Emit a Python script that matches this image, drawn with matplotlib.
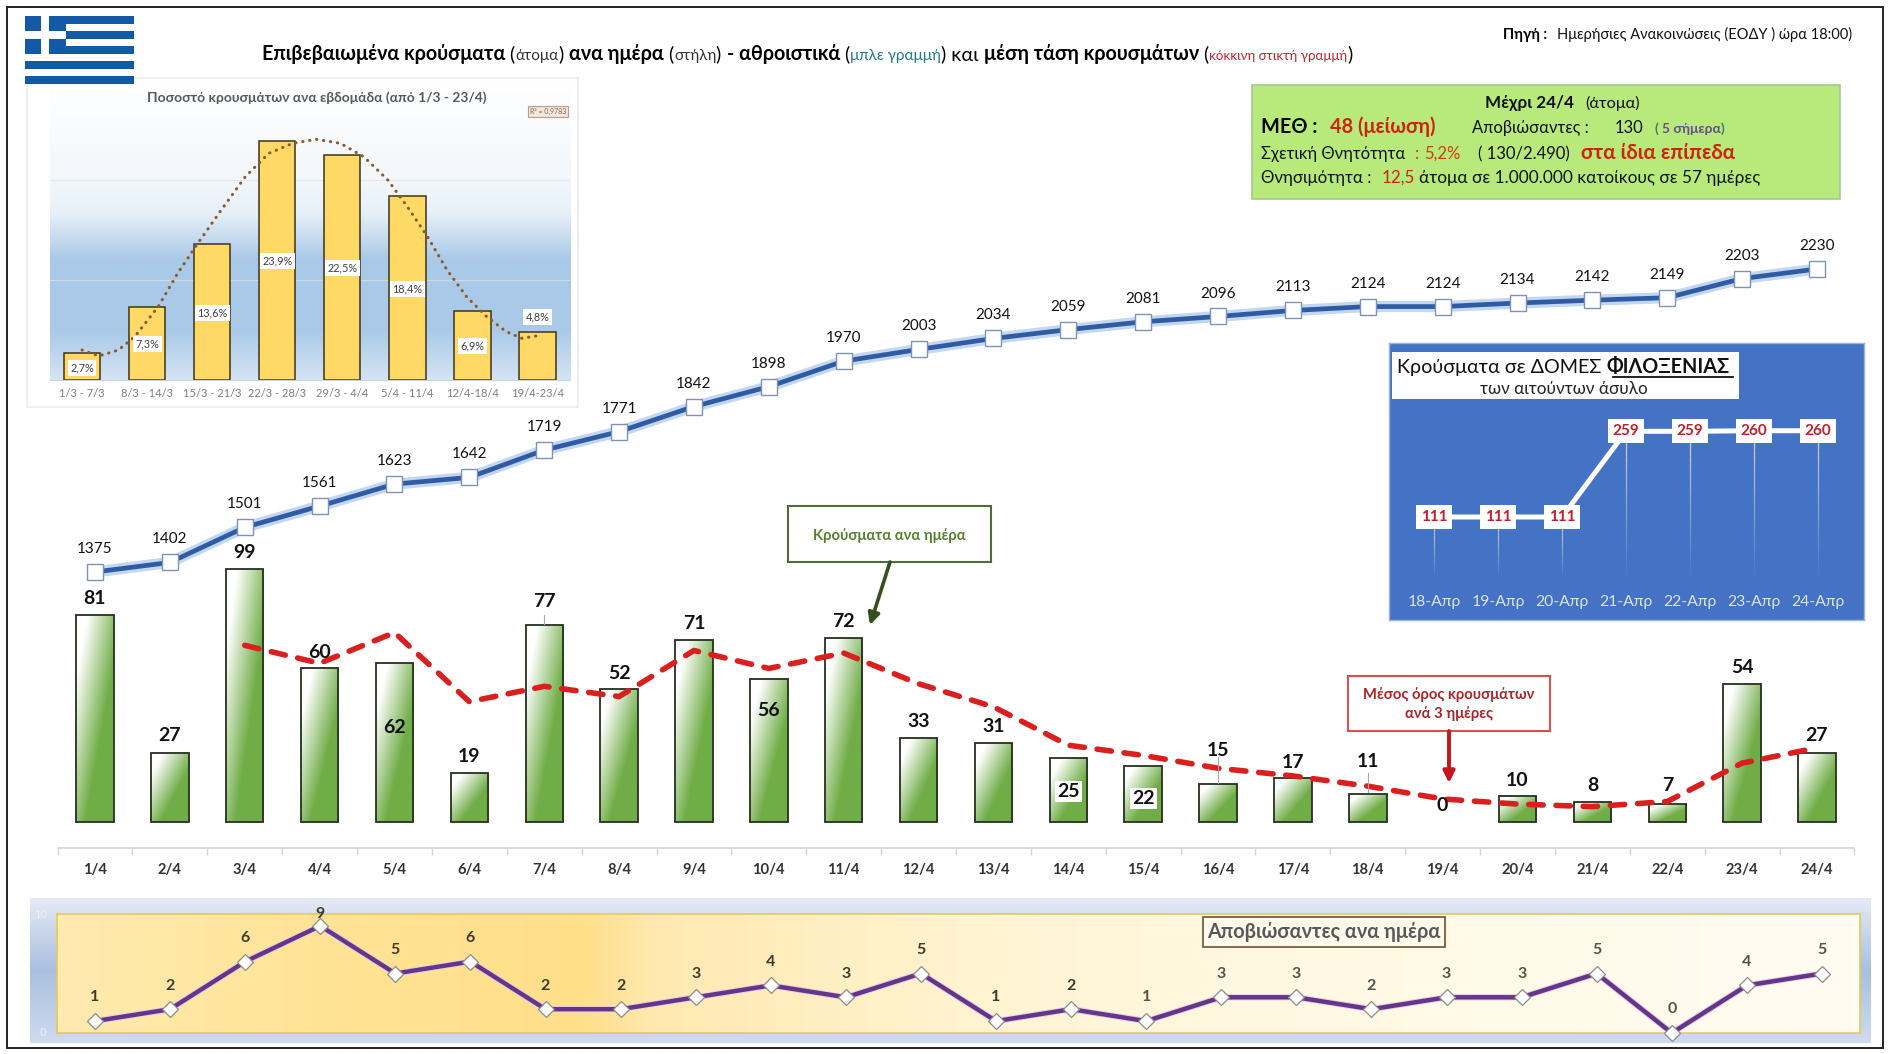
import numpy as np
import matplotlib
matplotlib.use('Agg')
import matplotlib.pyplot as plt
from matplotlib.patches import Rectangle, FancyArrowPatch
from matplotlib.colors import LinearSegmentedColormap

plt.rcParams['font.family'] = ['Lato', 'Noto Sans', 'DejaVu Sans']

# ---------- data ----------
days = [f'{d}/4' for d in range(1, 25)]
daily = [81, 27, 99, 60, 62, 19, 77, 52, 71, 56, 72, 33, 31, 25, 22, 15, 17, 11, 0, 10, 8, 7, 54, 27]
cumulative = [1375, 1402, 1501, 1561, 1623, 1642, 1719, 1771, 1842, 1898, 1970, 2003, 2034, 2059, 2081,
              2096, 2113, 2124, 2124, 2134, 2142, 2149, 2203, 2230]
avg3 = [69, 62, 74, 47, 53, 49, 67, 60, 66, 54, 45, 30, 26, 21, 18, 14, 9, 7, 6, 8, 23, 29]
deaths = [1, 2, 6, 9, 5, 6, 2, 2, 3, 4, 3, 5, 1, 2, 1, 3, 3, 2, 3, 3, 5, 0, 4, 5]
weeks = ['1/3 - 7/3', '8/3 - 14/3', '15/3 - 21/3', '22/3 - 28/3', '29/3 - 4/4', '5/4 - 11/4', '12/4-18/4', '19/4-23/4']
week_pct = [2.7, 7.3, 13.6, 23.9, 22.5, 18.4, 6.9, 4.8]
trend_x = [0, .26, .56, .81, 1.17, 1.47, 1.78, 2.14, 2.51, 2.87, 3.24, 3.6, 3.97, 4.33, 4.7, 5, 5.31, 5.61, 5.91, 6.22, 6.52, 6.76, 6.98]
trend_y = [3, 2.4, 3, 4.33, 7.33, 10.67, 13.67, 17, 20.33, 22.67, 23.67, 24.07, 23.67, 22.33, 20, 17.33, 14.33, 11, 8.33, 6.33, 4.83, 4.17, 4.4]
hosp_days = ['18-Απρ', '19-Απρ', '20-Απρ', '21-Απρ', '22-Απρ', '23-Απρ', '24-Απρ']
hosp_cases = [111, 111, 111, 259, 259, 260, 260]
# y of the daily labels in the shrunken reference picture
daily_label_y = [494, 608, 456, 539, 601, 625, 497, 556, 515, 587, 513, 596, 600, 654, 660, 620, 630, 629, 666, 645, 649, 649, 551, 608]

W, H = 1893, 1054
fig = plt.figure(figsize=(W / 100, H / 100), dpi=100, facecolor='white')
S = 1893 / 1568


def rect(x0, y0, x1, y1):
    return [x0 / W, 1 - y1 / H, (x1 - x0) / W, (y1 - y0) / H]


# background layer in pixel coordinates
bg = fig.add_axes([0, 0, 1, 1], zorder=0)
bg.set_xlim(0, W); bg.set_ylim(H, 0); bg.axis('off')
# overlay layer in pixel coordinates
ov = fig.add_axes([0, 0, 1, 1], zorder=10)
ov.set_xlim(0, W); ov.set_ylim(H, 0); ov.axis('off'); ov.patch.set_alpha(0)

bg.add_patch(Rectangle((7, 7), 1876, 1041, fc='white', ec='#222222', lw=1.4))

# ---------- flag ----------
blue = '#1259A6'
fx0, fy0, fx1, fy1 = 25, 16, 134, 84
sh = (fy1 - fy0) / 9
ov.add_patch(Rectangle((fx0, fy0), fx1 - fx0, fy1 - fy0, fc='white', ec='none'))
for i in range(0, 9, 2):
    ov.add_patch(Rectangle((fx0, fy0 + i * sh), fx1 - fx0, sh, fc=blue, ec='none'))
ov.add_patch(Rectangle((fx0, fy0), 5 * sh + 3, 5 * sh, fc=blue, ec='none'))
ov.add_patch(Rectangle((fx0 + 2 * sh + 1, fy0), sh, 5 * sh, fc='white', ec='none'))
ov.add_patch(Rectangle((fx0, fy0 + 2 * sh), 5 * sh + 3, sh, fc='white', ec='none'))


# ---------- text helpers ----------
def flow(x, y, parts):
    r = fig.canvas.get_renderer()
    for txt, kw in parts:
        t = ov.text(x, y, txt, va='baseline', ha='left', **kw)
        x += t.get_window_extent(r).width
    return x


B = dict(fontweight='bold', color='black')
T = 14.2
flow(262, 60, [('Επιβεβαιωμένα κρούσματα', dict(fontsize=T, **B)),
               (' (', dict(fontsize=T, color='black')),
               ('άτομα', dict(fontsize=11, color='#333333')),
               (') ', dict(fontsize=T, color='black')),
               ('ανα ημέρα', dict(fontsize=T, **B)),
               (' (', dict(fontsize=T, color='black')),
               ('στήλη', dict(fontsize=11, color='#333333')),
               (') ', dict(fontsize=T, color='black')),
               ('- αθροιστικά', dict(fontsize=T, **B)),
               (' (', dict(fontsize=T, color='black')),
               ('μπλε γραμμή', dict(fontsize=11, color='#1F7A8C')),
               (') και ', dict(fontsize=T, color='black')),
               ('μέση τάση κρουσμάτων', dict(fontsize=T, **B)),
               (' (', dict(fontsize=T, color='black')),
               ('κόκκινη στικτή γραμμή', dict(fontsize=9.6, color='#C0272D')),
               (')', dict(fontsize=T, color='black'))])
flow(1503, 39, [('Πηγή :', dict(fontsize=10.5, **B))])
ov.text(1557, 39, 'Ημερήσιες Ανακοινώσεις (ΕΟΔΥ ) ώρα 18:00)', fontsize=10.5, color='#111111', va='baseline')

# ---------- green box ----------
ov.add_patch(Rectangle((1252, 85), 588, 114, fc='#B7EA7B', ec='#A5C98E', lw=1.2))
ov.text(1485, 108, 'Μέχρι 24/4', fontsize=12.3, fontweight='bold', color='#111111', va='baseline')
ov.text(1585, 108, '(άτομα)', fontsize=11.8, color='#111111', va='baseline')
ov.text(1261, 133, 'ΜΕΘ :', fontsize=14.3, fontweight='bold', color='black', va='baseline')
ov.text(1330, 133, '48 (μείωση)', fontsize=14.3, fontweight='bold', color='#D3200F', va='baseline')
ov.text(1472, 133, 'Αποβιώσαντες :', fontsize=11.9, color='#111111', va='baseline')
ov.text(1615, 133, '130', fontsize=11.9, color='#111111', va='baseline')
flow(1655, 133, [('( ', dict(fontsize=9.9, fontweight='bold', color='#3F7F60')),
                 ('5 σήμερα', dict(fontsize=9.9, fontweight='bold', color='#6A4C93')),
                 (')', dict(fontsize=9.9, fontweight='bold', color='#3F7F60'))])
ov.text(1261, 159, 'Σχετική Θνητότητα', fontsize=12, color='#111111', va='baseline')
ov.text(1415, 159, ':', fontsize=12, color='#CF3B12', va='baseline')
ov.text(1424, 159, '5,2%', fontsize=12, color='#CF3B12', va='baseline')
ov.text(1478, 159, '( 130/2.490)', fontsize=12, color='#111111', va='baseline')
ov.text(1581, 159, 'στα ίδια επίπεδα', fontsize=14.8, fontweight='bold', color='#D3200F', va='baseline')
ov.text(1261, 183, 'Θνησιμότητα :', fontsize=12.2, color='#111111', va='baseline')
ov.text(1382, 183, '12,5', fontsize=12.2, color='#D3200F', va='baseline')
ov.text(1419, 183, 'άτομα σε 1.000.000 κατοίκους σε 57 ημέρες', fontsize=12.4, color='#111111', va='baseline')

# ---------- main chart ----------
PX = 2.56          # pixels per case
PC = 303 / 855     # pixels per cumulative case
MY0, MY1 = 240, 848
x0 = 95; dx = (1817 - 95) / 23
ax = fig.add_axes(rect(x0 - dx / 2, MY0, x0 + 23.5 * dx, MY1), zorder=2)
ax.patch.set_alpha(0)
ax.set_xlim(-0.5, 23.5)
ax.set_ylim(-(MY1 - 822) / PX, (822 - MY0) / PX)
for s in ['top', 'left', 'right']:
    ax.spines[s].set_visible(False)
ax.spines['bottom'].set_color('#D4D4D4'); ax.spines['bottom'].set_linewidth(1.2)
ax.set_yticks([])
xs = np.arange(24)
bars = ax.bar(xs, daily, width=0.5, facecolor='none', edgecolor='#26301F',
              linewidth=[0 if v == 0 else 1.3 for v in daily], zorder=3)
u, v = np.meshgrid(np.linspace(0, 1, 48), np.linspace(1, 0, 96))
grad = np.clip(((u + (1 - v)) - 0.30) / 0.95, 0, 1)
for b, val in zip(bars, daily):
    if val == 0:
        continue
    im = ax.imshow(grad, cmap=LinearSegmentedColormap.from_list('g2', ['#FFFFFF', '#70AD47']),
                   extent=[b.get_x(), b.get_x() + b.get_width(), 0, val],
                   aspect='auto', zorder=1, interpolation='bilinear')
    im.set_clip_path(b)
ax.set_xlim(-0.5, 23.5)
ax.set_ylim(-(MY1 - 822) / PX, (822 - MY0) / PX)
ax.set_xticks(xs)
ax.set_xticklabels(days, fontsize=10.6, fontweight='bold', color='#333333')
ax.tick_params(axis='x', length=0, pad=10.5)
ax.set_xticks(np.arange(-0.5, 24, 1), minor=True)
ax.tick_params(axis='x', which='minor', length=5, color='#D4D4D4', width=1)
ax.plot(xs[2:], avg3, color='#DB1F1F', lw=4, ls=(0, (2.6, 2.3)), dash_capstyle='round', zorder=5)

ax2 = ax.twinx()
ax2.patch.set_alpha(0)
ax2.set_ylim(1375 - (MY1 - 572) / PC, 1375 + (572 - MY0) / PC)
ax2.axis('off')
ax2.plot(xs, cumulative, color='#BDD3EE', lw=8, alpha=0.9, solid_capstyle='round', zorder=2)
ax2.plot(xs, cumulative, color='#2F5BA5', lw=3.4, zorder=3)
ax2.plot(xs, cumulative, ls='none', marker='s', ms=12, mfc='white', mec='#7F93B5', mew=1.0, zorder=4)
for i, c in enumerate(cumulative):
    ax2.annotate(str(c), (i, c), xytext=(0, 11.5), textcoords='offset points', ha='center', va='bottom',
                 fontsize=11, color='#111111', zorder=6)

# daily labels + leaders
for i, (val, ly) in enumerate(zip(daily, daily_label_y)):
    px = x0 + i * dx
    box = dict(fc='white', ec='none', pad=1.5) if val in (25, 22) else None
    ov.text(px, (ly + 1.5) * S, str(val), fontsize=14, fontweight='bold', color='#111111', ha='center', va='center', bbox=box)
for i, y0_, y1_ in [(6, 615, 624), (15, 757, 783), (17, 773, 792)]:
    ov.plot([x0 + i * dx] * 2, [y0_, y1_], color='#AAAAAA', lw=0.8)

# callouts
ov.add_patch(Rectangle((788, 506), 203, 56, fc='white', ec='#4E6B38', lw=1.5))
ov.text(889.5, 536, 'Κρούσματα ανα ημέρα', fontsize=10.6, fontweight='bold', color='#55812F', ha='center', va='center')
ov.add_patch(FancyArrowPatch((890, 562), (870, 625), arrowstyle='-|>', mutation_scale=17, lw=2.6, color='#34501F', shrinkA=0, shrinkB=0))
ov.add_patch(Rectangle((1348, 676), 202, 55, fc='white', ec='#D2524F', lw=1.5))
ov.text(1449, 704.5, 'Μέσος όρος κρουσμάτων\nανά 3 ημέρες', fontsize=10.6, fontweight='bold', color='#B02228',
        ha='center', va='center', linespacing=1.35)
ov.add_patch(FancyArrowPatch((1449, 731), (1449, 783), arrowstyle='-|>', mutation_scale=17, lw=2.8, color='#C8141C', shrinkA=0, shrinkB=0))

# ---------- weekly inset ----------
bg.add_patch(Rectangle((27, 78), 551, 329, fc='white', ec='#EEEEEE', lw=1.5))
ia = fig.add_axes(rect(49.5, 80, 570, 380), zorder=3)
ia.set_xlim(-0.5, 7.5); ia.set_ylim(0, 30)
bgcm = LinearSegmentedColormap.from_list('b', [(0, '#FFFFFF'), (0.33, '#F3F7FB'), (0.45, '#E6EFF8'), (0.6, '#A9C9E8'),
                                               (0.84, '#ABCAE8'), (1, '#D4E4F3')])
ia.imshow(np.linspace(0, 1, 256).reshape(-1, 1), cmap=bgcm, extent=[-0.5, 7.5, 0, 30], aspect='auto', zorder=0)
ia.set_xlim(-0.5, 7.5); ia.set_ylim(0, 30)
ia.set_yticks([10, 20], minor=False)
ia.set_yticklabels([])
ia.tick_params(axis='y', length=0)
ia.grid(axis='y', color='#DDE3EA', lw=0.9, alpha=0.7, zorder=0.5)
for s in ia.spines.values():
    s.set_visible(False)
ia.spines['bottom'].set_visible(True); ia.spines['bottom'].set_color('#C8D4E0')
ia.bar(range(8), week_pct, width=0.56, facecolor='#FFD966', edgecolor='#3B3418', linewidth=1.1, zorder=2)
ia.plot(trend_x, trend_y, ls=(0, (0.1, 2.2)), lw=2.2, color='#8B5A2B', dash_capstyle='round', zorder=3)
ia.set_xticks(range(8)); ia.set_xticklabels(weeks, fontsize=8.0, color='#7F7F7F')
ia.tick_params(axis='x', length=0, pad=6)
ly = [1.2, 3.6, 6.7, 11.9, 11.2, 9.1, 3.4, 6.3]
for i, (p, y) in enumerate(zip(week_pct, ly)):
    ia.text(i, y, f'{p}'.replace('.', ',') + '%', fontsize=7.8, color='#404040', ha='center', va='center',
            bbox=dict(fc='white', ec='none', pad=1.8), zorder=4)
ov.text(317, 98, 'Ποσοστό κρουσμάτων ανα εβδομάδα (από 1/3 - 23/4)', fontsize=9.9, fontweight='bold', color='#595959',
        ha='center', va='center')
ov.text(548, 111.5, 'R² = 0,9783', fontsize=5, color='#7F6A5A', ha='center', va='center',
        bbox=dict(fc='#F2E6DC', ec='#B79E8A', pad=1.6, lw=0.8))

# ---------- blue panel ----------
ov_b = fig.add_axes(rect(1388.5, 343, 1864, 620), zorder=4)
ov_b.set_facecolor('#4472C4')
ov_b.set_xticks([]); ov_b.set_yticks([])
for s in ov_b.spines.values():
    s.set_color('#9DB5E0'); s.set_linewidth(1)
hx0 = 1434; hdx = (1818 - 1434) / 6
PH = 85.7 / 148
ha_ = fig.add_axes(rect(hx0 - hdx / 2, 400, hx0 + 6.5 * hdx, 620), zorder=5)
ha_.patch.set_alpha(0)
ha_.set_xlim(-0.5, 6.5)
ha_.set_ylim(111 - (620 - 517) / PH, 111 + (517 - 400) / PH)
for s in ha_.spines.values():
    s.set_visible(False)
ha_.set_yticks([])
ha_.set_xticks(range(7)); ha_.set_xticklabels(hosp_days, fontsize=11.3, color='#D9E2F3')
ha_.tick_params(axis='x', length=0, pad=-18)
ybot = 111 - (577 - 517) / PH
for i, c in enumerate(hosp_cases):
    n = 24
    ys = np.linspace(c, ybot, n + 1)
    for k in range(n):
        ha_.plot([i, i], ys[k:k + 2], color='white', lw=0.9, alpha=0.75 * (1 - k / n), solid_capstyle='butt', zorder=1)
ha_.plot(range(7), hosp_cases, color='white', lw=3.6, zorder=2)
for i, c in enumerate(hosp_cases):
    ha_.text(i, c, str(c), fontsize=11, fontweight='bold', color='#C0202C', ha='center', va='center', zorder=3,
             bbox=dict(fc='white', ec='none', boxstyle='square,pad=0.32'))
ov.add_patch(Rectangle((1392, 352), 347, 47, fc='white', ec='none'))
end = flow(1397, 373, [('Κρούσματα σε ΔΟΜΕΣ ', dict(fontsize=14.2, color='#111111')),
                       ('ΦΙΛΟΞΕΝΙΑΣ', dict(fontsize=14.2, fontweight='bold', color='#111111'))])
ov.plot([1613, 1733], [376.5, 376.5], color='#111111', lw=1.3)
ov.text(1564, 389, 'των αιτούντων άσυλο', fontsize=12.3, color='#222222', ha='center', va='center')

# ---------- deaths panel ----------
outer_cm = LinearSegmentedColormap.from_list('o', ['#E4EAF4', '#A9BFE0', '#CFDBEE'])
bg.imshow(np.linspace(0, 1, 64).reshape(-1, 1), cmap=outer_cm, extent=[30, 1871, 1043, 898], aspect='auto', zorder=1)
bg.set_xlim(0, W); bg.set_ylim(H, 0)
da = fig.add_axes(rect(57, 914, 1860, 1033), zorder=3)
ddx = (1822 - 95) / 23
da.set_xlim((57 - 95) / ddx, (1860 - 95) / ddx)
da.set_ylim(0, 10)
inner = LinearSegmentedColormap.from_list('i', [(0, '#FFEAB0'), (0.15, '#FFE394'), (0.29, '#FFDF8A'), (0.33, '#FFE9B0'),
                                                (0.5, '#FFF3D0'), (0.65, '#FFF8E0'), (1, '#FFFCF2')])
da.imshow(np.linspace(0, 1, 256).reshape(1, -1), cmap=inner, aspect='auto', zorder=0,
          extent=[(57 - 95) / ddx, (1860 - 95) / ddx, 0, 10])
da.set_xlim((57 - 95) / ddx, (1860 - 95) / ddx)
da.set_ylim(0, 10)
da.set_yticks([]); da.set_xticks([])
for s in da.spines.values():
    s.set_color('#E4C866'); s.set_linewidth(1.2)
da.plot(range(24), deaths, color='#EBCFE0', lw=4.6, zorder=2, clip_on=False)
da.plot(range(24), deaths, color='#63368C', lw=3.2, zorder=3, clip_on=False)
da.plot(range(24), deaths, ls='none', marker='D', ms=8, mfc='white', mec='#8C8C8C', mew=0.9, zorder=4, clip_on=False)
for i, d in enumerate(deaths):
    off = 8.5 if d == 9 else 17
    da.annotate(str(d), (i, d), xytext=(0, off), textcoords='offset points', ha='center', va='center',
                fontsize=11.5, fontweight='bold', color='#403A2A' if i < 14 else '#55534C', zorder=5, annotation_clip=False)
ov.text(1324, 932, 'Αποβιώσαντες ανα ημέρα', fontsize=14.3, fontweight='bold', color='#595959', ha='center', va='center',
        bbox=dict(fc='#FFFAEB', ec='#6B5232', pad=3.5, lw=1.2))
ov.text(41, 914, '10', fontsize=8, color='#EEF2F9', ha='center', va='center')
ov.text(43, 1033, '0', fontsize=8, color='#EEF2F9', ha='center', va='center')

fig.savefig('out.png', dpi=100)
